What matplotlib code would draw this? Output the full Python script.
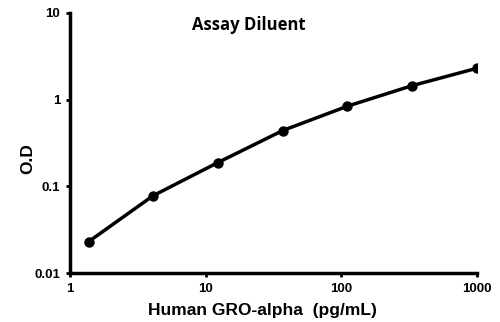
import matplotlib
matplotlib.use("Agg")
import matplotlib.pyplot as plt
from matplotlib.ticker import FixedLocator, NullLocator, FixedFormatter

conc = [1.37, 4.1, 12.3, 37, 111, 333, 1000]
od = [0.023, 0.078, 0.188, 0.44, 0.84, 1.45, 2.3]
xticks = [1, 10, 100, 1000]
xticklabels = ["1", "10", "100", "1000"]
yticks = [0.01, 0.1, 1, 10]
yticklabels = ["0.01", "0.1", "1", "10"]

fig = plt.figure(figsize=(5, 3.22), dpi=100)
ax = fig.add_axes([0.14, 0.152, 0.814, 0.808])
ax.plot(conc, od, color="black", lw=2.5, marker="o", ms=6.5, solid_capstyle="round")
ax.set_xscale("log")
ax.set_yscale("log")
ax.set_xlim(1, 1000)
ax.set_ylim(0.01, 10)
ax.xaxis.set_major_locator(FixedLocator(xticks))
ax.xaxis.set_major_formatter(FixedFormatter(xticklabels))
ax.yaxis.set_major_locator(FixedLocator(yticks))
ax.yaxis.set_major_formatter(FixedFormatter(yticklabels))
ax.xaxis.set_minor_locator(NullLocator())
ax.yaxis.set_minor_locator(NullLocator())
for s in ["top", "right"]:
    ax.spines[s].set_visible(False)
for s in ["left", "bottom"]:
    ax.spines[s].set_linewidth(2.5)
ax.tick_params(width=2, length=3, direction="out", labelsize=9.5, pad=4)
for lab in ax.get_xticklabels() + ax.get_yticklabels():
    lab.set_fontweight("bold")
    lab.set_family("Liberation Sans")
ax.set_xlabel("Human GRO-alpha  (pg/mL)", fontsize=12.5, fontweight="bold", family="Liberation Sans")
ax.xaxis.set_label_coords(0.472, -0.115)
ax.set_ylabel("O.D", fontsize=12.5, fontweight="bold", family="Liberation Sans")
ax.yaxis.set_label_coords(-0.085, 0.44)
ax.text(0.44, 0.955, "Assay Diluent", transform=ax.transAxes, ha="center", va="center",
        fontsize=12, fontweight="bold", family="Open Sans")
fig.savefig("out.png", dpi=100)
